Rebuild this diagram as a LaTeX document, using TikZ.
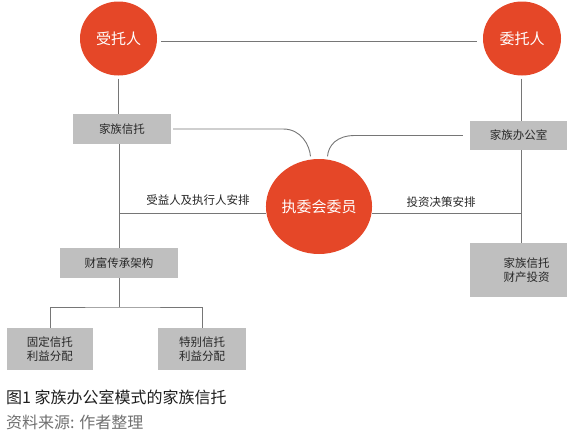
\documentclass[tikz,border=0pt]{standalone}
\usepackage{fontspec}
\setmainfont{Noto Sans CJK SC}
\usepackage{tikz}
\usetikzlibrary{shapes.geometric, positioning, calc}
\definecolor{clrRole}{RGB}{229, 71, 40}
\definecolor{boxbg}  {RGB}{191,191,191}
\definecolor{lnclr}  {RGB}{118,118,118}
\definecolor{capclr} {RGB}{ 30, 30, 30}
\definecolor{srcclr} {RGB}{112,112,112}
\tikzset{
  rolenode/.style={ellipse, fill=clrRole, text=white, inner sep=0pt,
    font=\fontsize{15}{18}\selectfont},
  boxnode/.style={rectangle, fill=boxbg, text=black!85, inner sep=0pt, align=center,
    font=\fontsize{11.5}{13.5}\selectfont},
  conn/.style={draw=lnclr, line width=0.9pt},
  edgelbl/.style={font=\fontsize{11.5}{13.5}\selectfont, text=black!85, inner sep=1pt},
}
\begin{document}
\begin{tikzpicture}[x=1pt,y=-1pt]
\useasboundingbox (0,0) rectangle (574,437);
% roles
\node[rolenode, minimum width=77pt, minimum height=74pt] (st) at (118.5,38.5) {受托人};
\node[rolenode, minimum width=78pt, minimum height=74pt] (wt) at (522,38.5) {委托人};
\node[rolenode, minimum width=102pt, minimum height=95pt] (zw) at (319,206.5) {执委会委员};
% boxes
\node[boxnode, minimum width=98pt, minimum height=30pt] (jzxt) at (122,129) {家族信托};
\node[boxnode, minimum width=97pt, minimum height=29pt] (jzbgs) at (518.5,135.5) {家族办公室};
\node[boxnode, minimum width=118pt, minimum height=30pt] (cf) at (119,263) {财富传承架构};
\node[boxnode, minimum width=97pt, minimum height=54pt, text width=62pt, align=right] (tz) at (518.5,270) {家族信托\\财产投资};
\node[boxnode, minimum width=86pt, minimum height=42pt] (gd) at (50,349) {固定信托\\利益分配};
\node[boxnode, minimum width=88pt, minimum height=42pt] (tb) at (202,349) {特别信托\\利益分配};
% labels
\node[edgelbl] (syr) at (198,200) {受益人及执行人安排};
\node[edgelbl] (tzjc) at (441,202) {投资决策安排};
\coordinate (lmid) at (119,213);
\coordinate (rmid) at (521,213);
\coordinate (split) at (119,307);
% connectors
\draw[conn, shorten <=4pt, shorten >=6pt] (st.east |- 0,41) -- (wt.west |- 0,41);
\draw[conn, shorten <=3pt] (st.south) -- (st.south |- jzxt.north);
\draw[conn] (jzxt.south -| cf) -- (cf.north);
\draw[conn] (lmid) -- (lmid -| zw.west);
\draw[conn, shorten <=3pt] (wt.south -| rmid) -- (jzbgs.north -| rmid);
\draw[conn] (jzbgs.south -| rmid) -- (tz.north -| rmid);
\draw[conn] (zw.east |- rmid) -- (rmid);
\draw[conn, shorten <=2pt, shorten >=3pt] (jzxt.east) -- ++(112,0)
  .. controls +(18,0) and +(-1,-14) .. (zw.100);
\draw[conn, shorten <=7pt, shorten >=3pt] (jzbgs.west) -- ++(-115,0)
  .. controls +(-18,0) and +(1,-14) .. (zw.80);
\draw[conn] (cf.south) -- (split);
\draw[conn] (gd.north) |- (split) -| (tb.north);
% caption
\node[anchor=west, inner sep=0pt, text=capclr, font=\fontsize{16}{18}\selectfont] (cap) at (6,397) {图1 家族办公室模式的家族信托};
\node[anchor=west, inner sep=0pt, text=srcclr, font=\fontsize{16}{18}\selectfont] (src) at (6,422) {资料来源: 作者整理};
\end{tikzpicture}
\end{document}
